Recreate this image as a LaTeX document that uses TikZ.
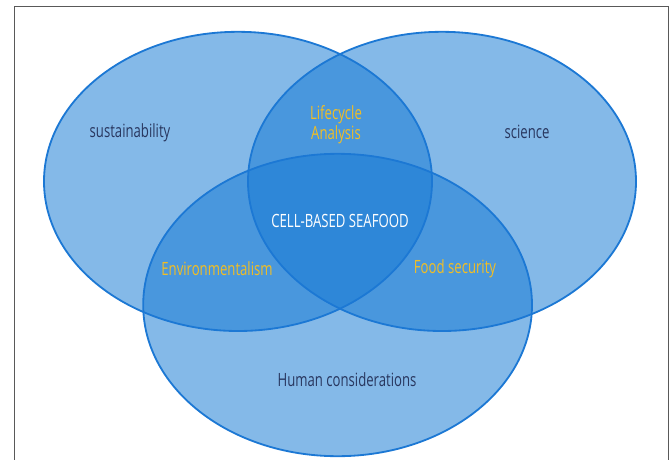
\documentclass[tikz,border=0pt]{standalone}
\usepackage{fontspec}
\setmainfont{Open Sans}[FakeStretch=0.72]
\definecolor{vennblue}{RGB}{20,120,211}
\definecolor{vennline}{RGB}{28,120,212}
\definecolor{setnavy}{RGB}{40,55,95}
\definecolor{setgold}{RGB}{242,190,35}

\begin{document}
\begin{tikzpicture}[
    set/.style={fill=vennblue,fill opacity=0.52},
    rim/.style={draw=vennline,line width=1.3pt},
    outer/.style={text=setnavy,font=\fontsize{13}{14}\selectfont},
    overlap/.style={text=setgold,font=\fontsize{13}{11}\selectfont,align=center}]
    \useasboundingbox (0,0) rectangle (16.8,11.475);

    % Frame
    \draw[gray!70!black,line width=0.6pt] (0.35,-0.3) -- (0.35,11.325) -- (16.7,11.325) -- (16.7,-0.3);

    % Three sets
    \fill[set] (5.95,6.94) ellipse (4.85 and 3.74);
    \fill[set] (11.05,6.94) ellipse (4.85 and 3.74);
    \fill[set] (8.44,3.85) ellipse (4.86 and 3.78);
    \draw[rim] (5.95,6.94) ellipse (4.85 and 3.74);
    \draw[rim] (11.05,6.94) ellipse (4.85 and 3.74);
    \draw[rim] (8.44,3.85) ellipse (4.86 and 3.78);

    % Set names
    \node[outer] (sustain) at (3.25,8.15) {sustainability};
    \node[outer] (science) at (13.175,8.175) {science};
    \node[outer] (human) at (8.675,1.975) {Human considerations};

    % Overlaps
    \node[overlap] (lca) at (8.4,8.35) {Lifecycle\\Analysis};
    \node[overlap] (environ) at (5.425,4.75) {Environmentalism};
    \node[overlap] (foodsec) at (11.375,4.75) {Food security};
    \node[text=white,font=\fontsize{13}{14}\selectfont] (seafood) at (8.5,5.95) {CELL-BASED SEAFOOD};
\end{tikzpicture}
\end{document}
